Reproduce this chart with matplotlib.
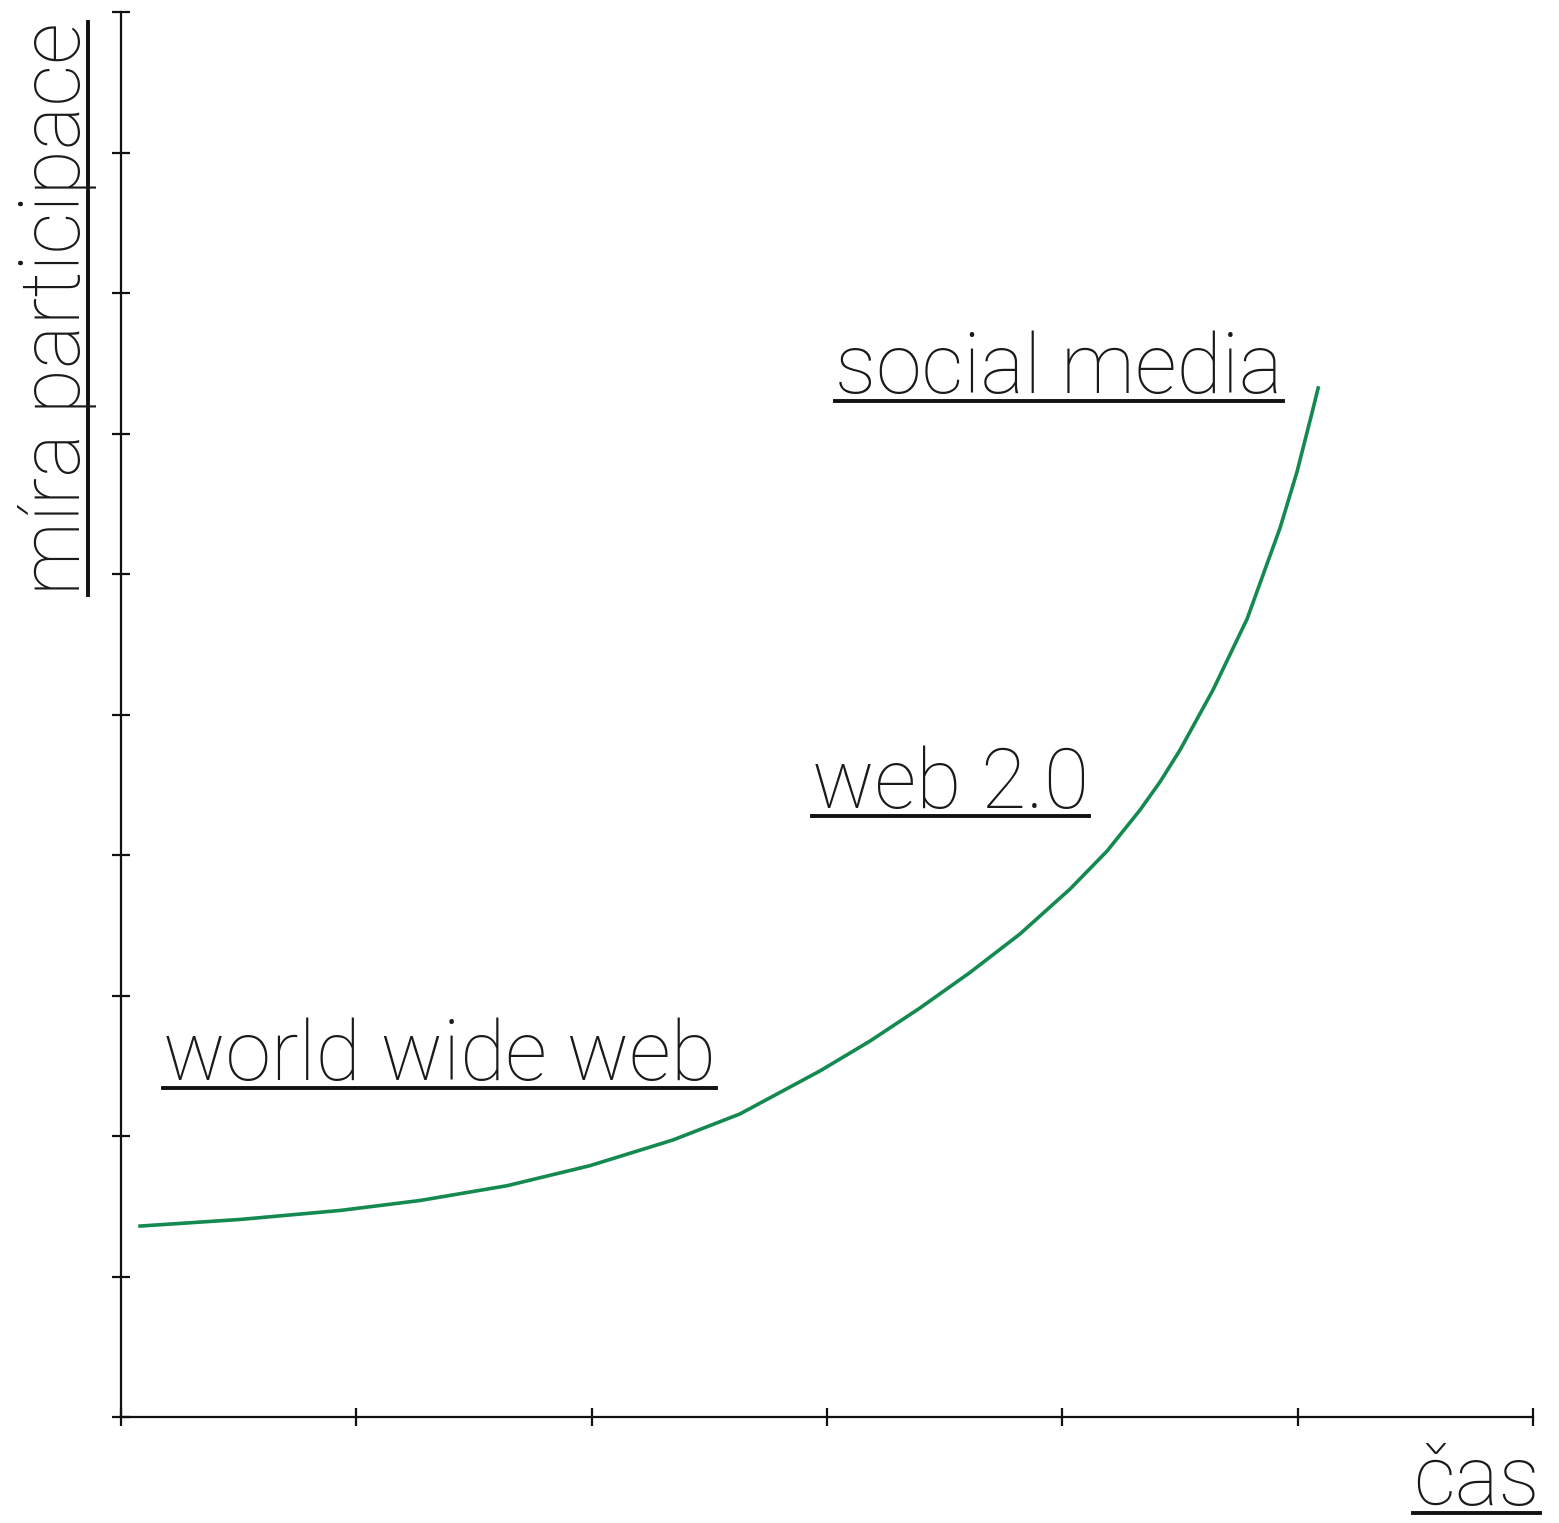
import matplotlib.pyplot as plt
from matplotlib.lines import Line2D

# hodnoty (osa x 0-6, osa y 0-10)
cas = [0.081, 0.506, 0.931, 1.271, 1.640, 1.993, 2.346, 2.630, 2.970, 3.183,
       3.395, 3.607, 3.820, 4.033, 4.190, 4.330, 4.415, 4.500, 4.640, 4.785,
       4.925, 4.997, 5.065, 5.087]
participace = [1.359, 1.406, 1.470, 1.541, 1.646, 1.789, 1.972, 2.157, 2.463, 2.676,
               2.911, 3.163, 3.438, 3.758, 4.028, 4.320, 4.520, 4.747, 5.174, 5.680,
               6.327, 6.726, 7.174, 7.324]

popisky = ["world wide web", "web 2.0", "social media"]
popisky_x = [0.178, 2.936, 3.034]
popisky_y = [2.399, 4.335, 7.288]

W, H = 1559, 1523
fig = plt.figure(figsize=(W / 100, H / 100), dpi=100)
ax = fig.add_axes([121 / W, (H - 1417) / H, (1533 - 121) / W, (1417 - 12) / H])

ax.plot(cas, participace, color="#148a50", lw=2.6, solid_joinstyle="round")

ax.set_xlim(0, 6)
ax.set_ylim(0, 10)
ax.set_xticks(range(0, 7))
ax.set_yticks(range(0, 11))
ax.set_xticklabels([])
ax.set_yticklabels([])
ax.spines["top"].set_visible(False)
ax.spines["right"].set_visible(False)
for s in ["left", "bottom"]:
    ax.spines[s].set_linewidth(1.6)
    ax.spines[s].set_color("#111111")
ax.tick_params(direction="inout", length=13, width=1.6, color="#111111")

pismo = dict(family=["Roboto", "DejaVu Sans"], fontweight="light", color="#1a1a1a")
velikost = 59.5

texty = []
for t, x, y in zip(popisky, popisky_x, popisky_y):
    texty.append(ax.text(x, y, t, fontsize=velikost, ha="left", va="baseline", **pismo))

ylab = fig.text(80 / W, (H - 595) / H, "míra participace", fontsize=velikost, rotation=90,
                rotation_mode="anchor", ha="left", va="baseline", **pismo)
xlab = fig.text(1413 / W, (H - 1505) / H, "čas", fontsize=velikost, ha="left", va="baseline", **pismo)

# podtržení textů
fig.canvas.draw()
r = fig.canvas.get_renderer()
for t in texty + [xlab]:
    bb = t.get_window_extent(r)
    base = t.get_transform().transform(t.get_position())[1]
    yy = (base - 8) / H
    fig.add_artist(Line2D([bb.x0 / W, bb.x1 / W], [yy, yy], transform=fig.transFigure,
                          color="#111111", lw=2.8))
bb = ylab.get_window_extent(r)
xx = (80 + 8) / W
fig.add_artist(Line2D([xx, xx], [bb.y0 / H, bb.y1 / H], transform=fig.transFigure,
                      color="#111111", lw=2.8))

fig.savefig("out.png", dpi=100)
